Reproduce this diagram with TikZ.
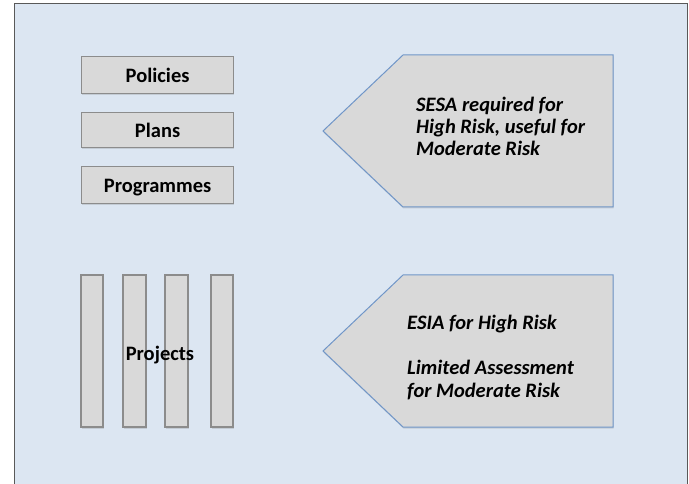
\documentclass[tikz,border=0pt]{standalone}
\usepackage{fontspec}
\setmainfont{Carlito}
\usetikzlibrary{shadows}
\definecolor{bgblue}{HTML}{DCE6F2}
\definecolor{boxgray}{HTML}{D9D9D9}
\definecolor{boxedge}{HTML}{8C8C8C}
\definecolor{penedge}{HTML}{7096C8}
\begin{document}
\begin{tikzpicture}[x=1pt,y=-1pt,
  box/.style={draw=boxedge,line width=1.2pt,fill=boxgray,drop shadow={shadow xshift=0.5pt,shadow yshift=-1.5pt,opacity=0.25}},
  pent/.style={draw=penedge,line width=1pt,fill=boxgray,drop shadow={shadow xshift=0.5pt,shadow yshift=-1.5pt,opacity=0.25}},
  lbl/.style={font=\fontsize{20.5}{22}\selectfont\bfseries},
  ilbl/.style={font=\fontsize{20.5}{22}\selectfont\bfseries\itshape,anchor=base west,inner sep=0pt}]
\useasboundingbox (0,0) rectangle (689,484);
\fill[white] (0,0) rectangle (689,484);
\draw[fill=bgblue,draw=black!65,line width=1pt] (14,4) rectangle (687,490);
% top-left boxes
\node[box,minimum width=152pt,minimum height=37pt,anchor=north west] (pol) at (81,56) {};
\node[lbl,anchor=base] (polt) at ([yshift=-7pt]pol.center) {Policies};
\node[box,minimum width=152pt,minimum height=35pt,anchor=north west] (pla) at (81,112) {};
\node[lbl,anchor=base] (plat) at ([yshift=-7pt]pla.center) {Plans};
\node[box,minimum width=152pt,minimum height=37pt,anchor=north west] (pro) at (81,166) {};
\node[lbl,anchor=base] (prot) at ([yshift=-7pt]pro.center) {Programmes};
% project bars
\draw[box] (81,275) rectangle (103,427);
\draw[box] (123,275) rectangle (146,427);
\draw[box] (165,275) rectangle (188,427);
\draw[box] (211,275) rectangle (233,427);
\node[lbl,anchor=base] (prj) at (160,360) {Projects};
% pentagons
\draw[pent] (323,131) -- (403,55) -- (613,55) -- (613,207) -- (403,207) -- cycle;
\node[ilbl] (sesa1) at (416,112) {SESA required for};
\node[ilbl] (sesa2) at (416,134) {High Risk, useful for};
\node[ilbl] (sesa3) at (416,156) {Moderate Risk};
\draw[pent] (323,351) -- (403,275) -- (613,275) -- (613,427) -- (403,427) -- cycle;
\node[ilbl] (esia) at (407,329) {ESIA for High Risk};
\node[ilbl] (lim1) at (407,374) {Limited Assessment};
\node[ilbl] (lim2) at (407,397) {for Moderate Risk};
\end{tikzpicture}
\end{document}
